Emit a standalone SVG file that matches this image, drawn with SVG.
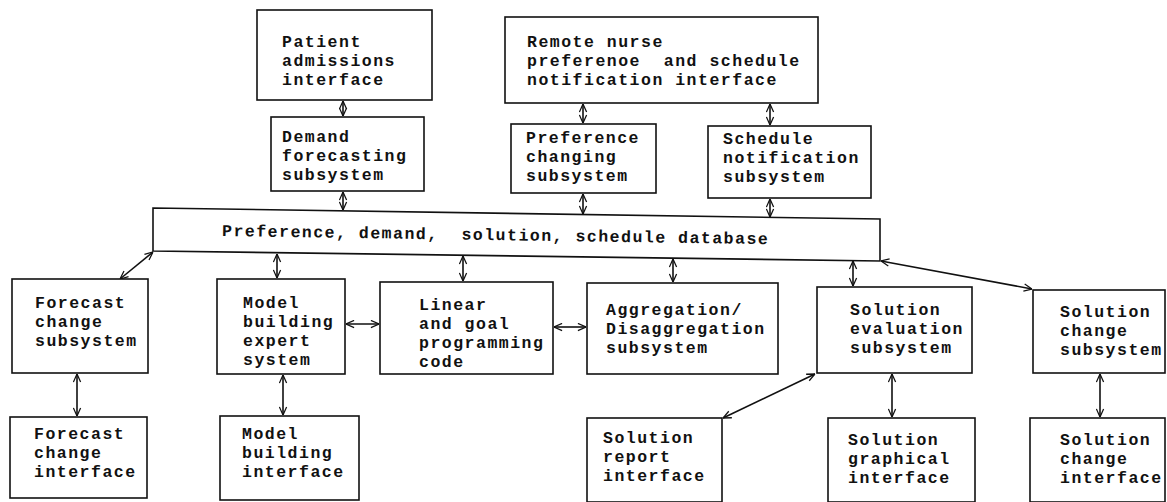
<svg xmlns="http://www.w3.org/2000/svg" width="1167" height="502" viewBox="0 0 1167 502">
  <defs>
    <style>
      .box { fill: #fff; stroke: #111; stroke-width: 1.6; }
      .lbl { font-family: "Liberation Mono", "DejaVu Sans Mono", monospace; font-size: 16.5px; letter-spacing: 1.5px; font-weight: bold; fill: #111; }
      .link { fill: none; stroke: #111; stroke-width: 1.6; marker-start: url(#tip); marker-end: url(#tip); }
    </style>
    <marker id="tip" viewBox="0 0 10 10" refX="10" refY="5" markerWidth="9" markerHeight="9" markerUnits="userSpaceOnUse" orient="auto-start-reverse">
      <path d="M1,1 L10,5 L1,9" fill="none" stroke="#111" stroke-width="1.4"/>
    </marker>
  </defs>
  <rect width="1167" height="502" fill="#fff"/>

  <!-- connectors: every link is two-way -->
  <g id="connectors">
    <line class="link" x1="343" y1="101" x2="343" y2="116"/>
    <line class="link" x1="343" y1="192" x2="343" y2="210"/>
    <line class="link" x1="583" y1="104" x2="583" y2="123"/>
    <line class="link" x1="583" y1="194" x2="583" y2="214"/>
    <line class="link" x1="770" y1="104" x2="770" y2="125"/>
    <line class="link" x1="770" y1="199" x2="770" y2="217"/>
    <line class="link" x1="153" y1="252" x2="120" y2="279"/>
    <line class="link" x1="277" y1="254" x2="277" y2="278"/>
    <line class="link" x1="463" y1="256" x2="463" y2="281"/>
    <line class="link" x1="673" y1="259" x2="673" y2="282"/>
    <line class="link" x1="853" y1="261" x2="853" y2="286"/>
    <line class="link" x1="881" y1="261" x2="1032" y2="289"/>
    <line class="link" x1="346" y1="324" x2="379" y2="324"/>
    <line class="link" x1="554" y1="327" x2="586" y2="327"/>
    <line class="link" x1="77" y1="374" x2="77" y2="416"/>
    <line class="link" x1="283" y1="375" x2="283" y2="415"/>
    <line class="link" x1="815" y1="374" x2="723" y2="418"/>
    <line class="link" x1="892" y1="374" x2="892" y2="417"/>
    <line class="link" x1="1100" y1="374" x2="1100" y2="417"/>
  </g>

  <g id="patient-admissions">
    <rect class="box" x="257" y="10" width="175" height="90"/>
    <text class="lbl"><tspan x="282" y="47">Patient</tspan><tspan x="282" y="66">admissions</tspan><tspan x="282" y="85">interface</tspan></text>
  </g>

  <g id="remote-nurse">
    <rect class="box" x="505" y="17" width="313" height="86"/>
    <text class="lbl" xml:space="preserve"><tspan x="527" y="47">Remote nurse</tspan><tspan x="527" y="66">preferenoe  and schedule</tspan><tspan x="527" y="85">notification interface</tspan></text>
  </g>

  <g id="demand-forecasting">
    <rect class="box" x="271" y="117" width="153" height="74"/>
    <text class="lbl"><tspan x="282" y="142">Demand</tspan><tspan x="282" y="161">forecasting</tspan><tspan x="282" y="180">subsystem</tspan></text>
  </g>

  <g id="preference-changing">
    <rect class="box" x="511" y="124" width="145" height="69"/>
    <text class="lbl"><tspan x="526" y="143">Preference</tspan><tspan x="526" y="162">changing</tspan><tspan x="526" y="181">subsystem</tspan></text>
  </g>

  <g id="schedule-notification">
    <rect class="box" x="708" y="126" width="163" height="72"/>
    <text class="lbl"><tspan x="723" y="144">Schedule</tspan><tspan x="723" y="163">notification</tspan><tspan x="723" y="182">subsystem</tspan></text>
  </g>

  <g id="database">
    <polygon class="box" points="153,208 880,219 880,261 153,251"/>
    <text class="lbl" xml:space="preserve" x="222" y="236" transform="rotate(0.85 222 236)">Preference, demand,  solution, schedule database</text>
  </g>

  <g id="forecast-change-subsystem">
    <rect class="box" x="12" y="279" width="136" height="94"/>
    <text class="lbl"><tspan x="35" y="308">Forecast</tspan><tspan x="35" y="327">change</tspan><tspan x="35" y="346">subsystem</tspan></text>
  </g>

  <g id="model-building-expert">
    <rect class="box" x="217" y="279" width="128" height="95"/>
    <text class="lbl"><tspan x="243" y="308">Model</tspan><tspan x="243" y="327">building</tspan><tspan x="243" y="346">expert</tspan><tspan x="243" y="365">system</tspan></text>
  </g>

  <g id="linear-goal-programming">
    <rect class="box" x="380" y="282" width="173" height="92"/>
    <text class="lbl"><tspan x="419" y="310">Linear</tspan><tspan x="419" y="329">and goal</tspan><tspan x="419" y="348">programming</tspan><tspan x="419" y="367">code</tspan></text>
  </g>

  <g id="aggregation">
    <rect class="box" x="587" y="283" width="191" height="91"/>
    <text class="lbl"><tspan x="606" y="315">Aggregation/</tspan><tspan x="606" y="334">Disaggregation</tspan><tspan x="606" y="353">subsystem</tspan></text>
  </g>

  <g id="solution-evaluation">
    <rect class="box" x="817" y="287" width="155" height="86"/>
    <text class="lbl"><tspan x="850" y="315">Solution</tspan><tspan x="850" y="334">evaluation</tspan><tspan x="850" y="353">subsystem</tspan></text>
  </g>

  <g id="solution-change-subsystem">
    <rect class="box" x="1033" y="290" width="132" height="83"/>
    <text class="lbl"><tspan x="1060" y="317">Solution</tspan><tspan x="1060" y="336">change</tspan><tspan x="1060" y="355">subsystem</tspan></text>
  </g>

  <g id="forecast-change-interface">
    <rect class="box" x="10" y="417" width="137" height="81"/>
    <text class="lbl"><tspan x="34" y="439">Forecast</tspan><tspan x="34" y="458">change</tspan><tspan x="34" y="477">interface</tspan></text>
  </g>

  <g id="model-building-interface">
    <rect class="box" x="220" y="416" width="139" height="84"/>
    <text class="lbl"><tspan x="242" y="439">Model</tspan><tspan x="242" y="458">building</tspan><tspan x="242" y="477">interface</tspan></text>
  </g>

  <g id="solution-report-interface">
    <rect class="box" x="587" y="418" width="135" height="84"/>
    <text class="lbl"><tspan x="603" y="443">Solution</tspan><tspan x="603" y="462">report</tspan><tspan x="603" y="481">interface</tspan></text>
  </g>

  <g id="solution-graphical-interface">
    <rect class="box" x="828" y="418" width="147" height="84"/>
    <text class="lbl"><tspan x="848" y="445">Solution</tspan><tspan x="848" y="464">graphical</tspan><tspan x="848" y="483">interface</tspan></text>
  </g>

  <g id="solution-change-interface">
    <rect class="box" x="1030" y="418" width="135" height="84"/>
    <text class="lbl"><tspan x="1060" y="445">Solution</tspan><tspan x="1060" y="464">change</tspan><tspan x="1060" y="483">interface</tspan></text>
  </g>
</svg>
